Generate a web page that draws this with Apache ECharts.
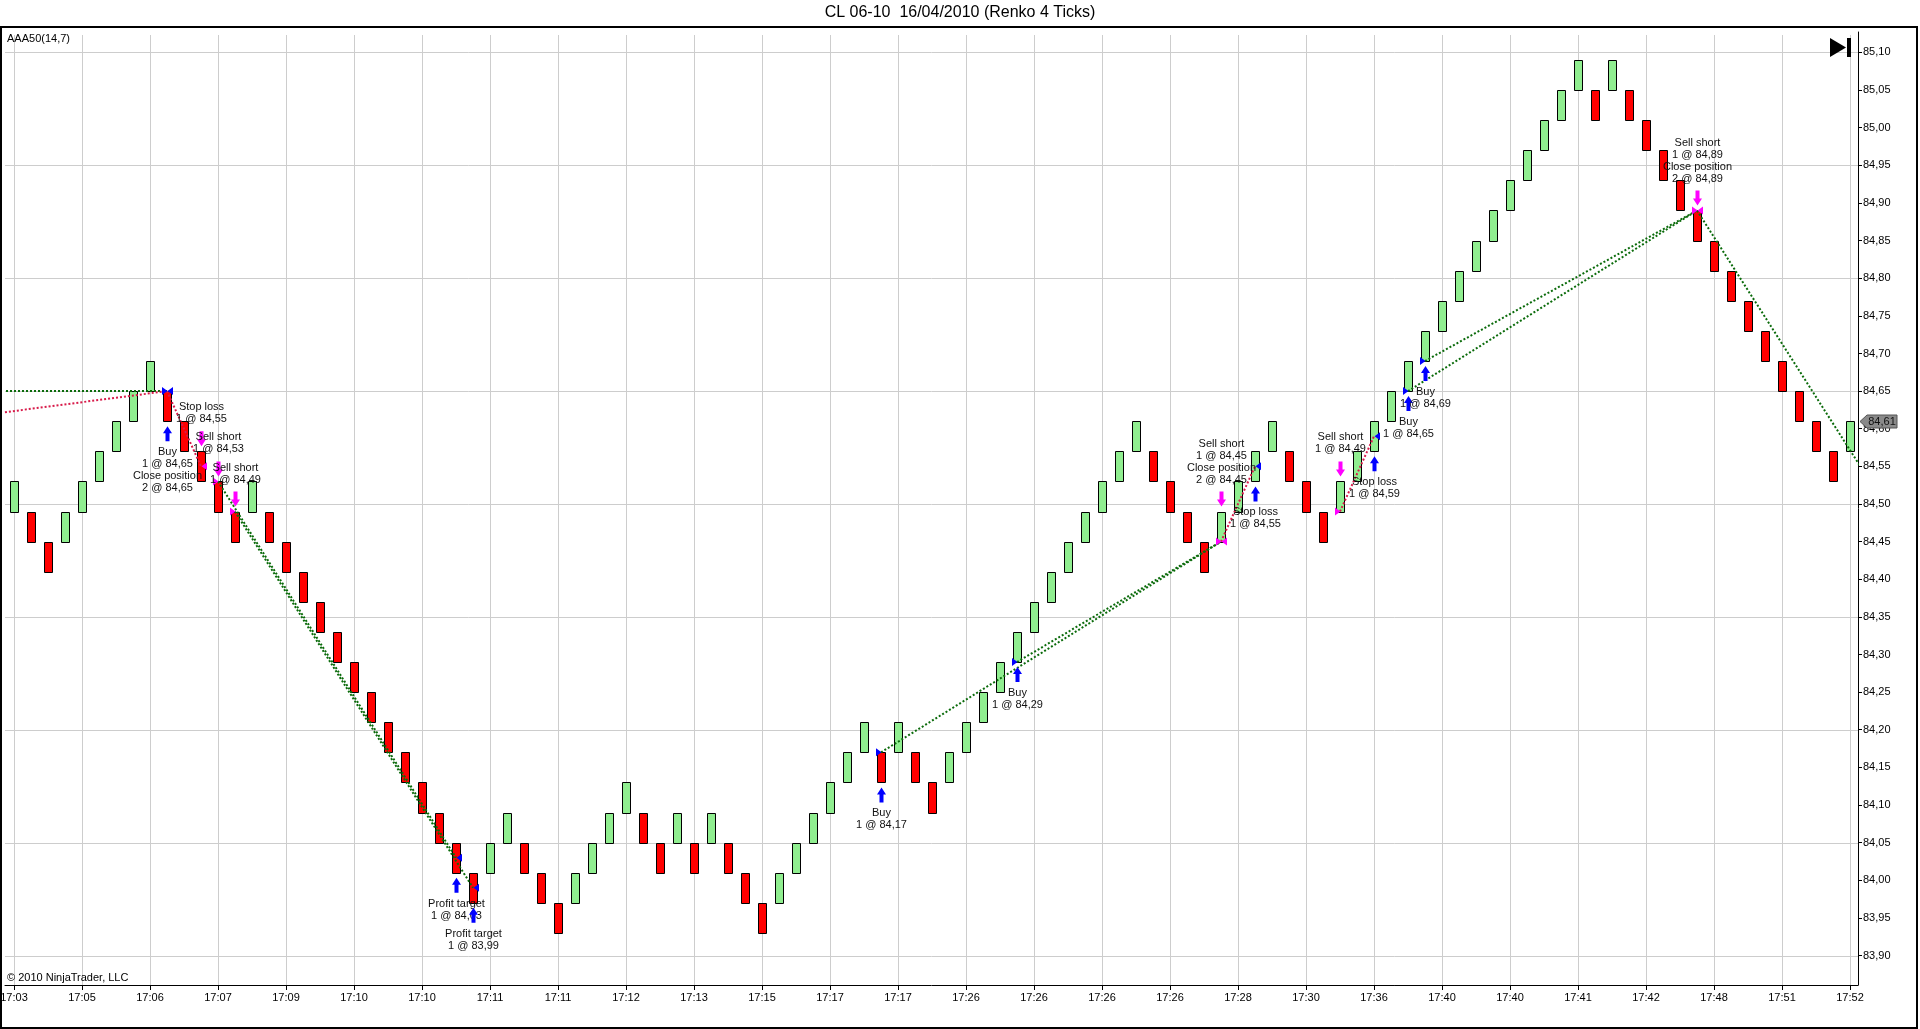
<!DOCTYPE html>
<html>
<head>
<meta charset="utf-8">
<script src="https://cdn.jsdelivr.net/npm/echarts@6/dist/echarts.min.js"></script>
<style>
html,body{margin:0;padding:0;background:#fff;}
#c{width:1920px;height:1029px;}
</style>
</head>
<body>
<div id="c"></div>
<script>
// ---------------- DATA ----------------
const chartTitle = 'CL 06-10  16/04/2010 (Renko 4 Ticks)';
const timeLabels = ['17:03','17:05','17:06','17:07','17:09','17:10','17:10','17:11','17:11','17:12','17:13','17:15','17:17','17:17','17:26','17:26','17:26','17:26','17:28','17:30','17:36','17:40','17:40','17:41','17:42','17:48','17:51','17:52'];
const timeLabelIdx = [0,4,8,12,16,20,24,28,32,36,40,44,48,52,56,60,64,68,72,76,80,84,88,92,96,100,104,108];

// brick direction: 1 = up (green), -1 = down (red)
const brickDir = [
  1,-1,-1,1,1,1,1,1,1,
  -1,-1,-1,-1,-1,
  1,
  -1,-1,-1,-1,-1,-1,-1,-1,-1,-1,-1,-1,-1,
  1,1,
  -1,-1,-1,
  1,1,1,1,
  -1,-1,
  1,
  -1,
  1,
  -1,-1,-1,
  1,1,1,1,1,1,
  -1,
  1,
  -1,-1,
  1,1,1,1,1,1,1,1,1,1,1,1,
  -1,-1,-1,-1,
  1,1,1,1,
  -1,-1,-1,
  1,1,1,1,1,1,1,1,1,1,1,1,1,1,1,
  -1,
  1,
  -1,-1,-1,-1,-1,-1,-1,-1,-1,-1,-1,-1,-1,
  1
];
// brick low price
const brickLow = [
  84.49,84.45,84.41,84.45,84.49,84.53,84.57,84.61,84.65,
  84.61,84.57,84.53,84.49,84.45,
  84.49,
  84.45,84.41,84.37,84.33,84.29,84.25,84.21,84.17,84.13,84.09,84.05,84.01,83.97,
  84.01,84.05,
  84.01,83.97,83.93,
  83.97,84.01,84.05,84.09,
  84.05,84.01,
  84.05,
  84.01,
  84.05,
  84.01,83.97,83.93,
  83.97,84.01,84.05,84.09,84.13,84.17,
  84.13,
  84.17,
  84.13,84.09,
  84.13,84.17,84.21,84.25,84.29,84.33,84.37,84.41,84.45,84.49,84.53,84.57,
  84.53,84.49,84.45,84.41,
  84.45,84.49,84.53,84.57,
  84.53,84.49,84.45,
  84.49,84.53,84.57,84.61,84.65,84.69,84.73,84.77,84.81,84.85,84.89,84.93,84.97,85.01,85.05,
  85.01,
  85.05,
  85.01,84.97,84.93,84.89,84.85,84.81,84.77,84.73,84.69,84.65,84.61,84.57,84.53,
  84.57
];
const brickSize = 0.04;

const yTickValues = [83.90,83.95,84.00,84.05,84.10,84.15,84.20,84.25,84.30,84.35,84.40,84.45,84.50,84.55,84.60,84.65,84.70,84.75,84.80,84.85,84.90,84.95,85.00,85.05,85.10];
const yGridValues = [83.90,84.05,84.20,84.35,84.50,84.65,84.80,84.95,85.10];

// executions
const execIdx   = [9, 11, 12, 13, 26, 27, 51, 59, 71, 73, 78, 80, 82, 83, 99];
const execPrice = [84.65, 84.55, 84.53, 84.49, 84.03, 83.99, 84.17, 84.29, 84.45, 84.55, 84.49, 84.59, 84.65, 84.69, 84.89];
const execSide  = ['buy','sell','sell','sell','buy','buy','buy','buy','sell','buy','sell','buy','buy','buy','sell'];
const execMark  = ['both','exit','entry','entry','exit','exit','entry','entry','both','exit','entry','exit','entry','entry','both'];
const execText  = [
  ['Buy','1 @ 84,65','Close position','2 @ 84,65'],
  ['Stop loss','1 @ 84,55'],
  ['Sell short','1 @ 84,53'],
  ['Sell short','1 @ 84,49'],
  ['Profit target','1 @ 84,03'],
  ['Profit target','1 @ 83,99'],
  ['Buy','1 @ 84,17'],
  ['Buy','1 @ 84,29'],
  ['Sell short','1 @ 84,45','Close position','2 @ 84,45'],
  ['Stop loss','1 @ 84,55'],
  ['Sell short','1 @ 84,49'],
  ['Stop loss','1 @ 84,59'],
  ['Buy','1 @ 84,65'],
  ['Buy','1 @ 84,69'],
  ['Sell short','1 @ 84,89','Close position','2 @ 84,89']
];

// trades (entry -> exit connections)
const tradeEntryIdx   = [-20, -8, 9, 12, 13, 51, 59, 71, 78, 82, 83, 99];
const tradeEntryPrice = [84.65, 84.60, 84.65, 84.53, 84.49, 84.17, 84.29, 84.45, 84.49, 84.65, 84.69, 84.89];
const tradeExitIdx    = [9, 9, 11, 26, 27, 71, 71, 73, 80, 99, 99, 112];
const tradeExitPrice  = [84.65, 84.65, 84.55, 84.03, 83.99, 84.45, 84.45, 84.55, 84.59, 84.89, 84.89, 84.43];
const tradeWin        = [1, 0, 0, 1, 1, 1, 1, 0, 0, 1, 1, 1];

const lastPrice = 84.61;

// ---------------- CHART ----------------
const FONT = 'Liberation Sans, Arial, sans-serif';
const XMIN = -0.53, XMAX = 108.47;
const YMIN = 83.8608, YMAX = 85.1272;

const bricks = brickLow.map((lo, i) => [i, lo, +(lo + brickSize).toFixed(2), brickDir[i]]);

function arrowUp(cx, t, color) {
  return {type:'polygon', shape:{points:[[cx,t],[cx+4.5,t+7],[cx+2,t+7],[cx+2,t+15],[cx-2,t+15],[cx-2,t+7],[cx-4.5,t+7]]}, style:{fill:color}};
}
function arrowDown(cx, b, color) {
  return {type:'polygon', shape:{points:[[cx,b],[cx+4.5,b-7],[cx+2,b-7],[cx+2,b-15],[cx-2,b-15],[cx-2,b-7],[cx-4.5,b-7]]}, style:{fill:color}};
}
function txt(x, y, s) {
  return {type:'text', x:x, y:y, style:{text:s, fill:'#111', font:'11px ' + FONT, align:'center', verticalAlign:'middle'}};
}

const series = [];

// vertical grid lines
series.push({
  type:'custom', z:0, silent:true, animation:false,
  data: timeLabelIdx.map(v => [v]),
  renderItem(params, api) {
    const a = api.coord([api.value(0), YMAX]);
    const b = api.coord([api.value(0), YMIN]);
    const x = Math.round(a[0]) + 0.5;
    return {type:'line', shape:{x1:x, y1:a[1] + 3, x2:x, y2:b[1]}, style:{stroke:'#cdcdcd', lineWidth:1}};
  }
});
// horizontal grid lines
series.push({
  type:'custom', z:0, silent:true, animation:false,
  data: yGridValues.map(v => [XMIN, v]),
  renderItem(params, api) {
    const a = api.coord([XMIN, api.value(1)]);
    const b = api.coord([XMAX, api.value(1)]);
    const y = Math.round(a[1]) + 0.5;
    return {type:'line', shape:{x1:a[0], y1:y, x2:b[0], y2:y}, style:{stroke:'#cdcdcd', lineWidth:1}};
  }
});
// bricks
series.push({
  type:'custom', z:2, silent:true, animation:false,
  data: bricks,
  renderItem(params, api) {
    const i = api.value(0), lo = api.value(1), hi = api.value(2), d = api.value(3);
    const a = api.coord([i, hi]), b = api.coord([i, lo]);
    const x = Math.round(a[0]) - 3.5;
    const y1 = Math.round(a[1]) + 0.5, y2 = Math.round(b[1]) + 0.5;
    return {type:'rect', shape:{x:x, y:y1, width:8, height:y2 - y1},
      style:{fill: d > 0 ? '#90EE90' : '#FF0000', stroke:'#000', lineWidth:1}};
  }
});
// trade lines
tradeEntryIdx.forEach((e, k) => {
  series.push({
    type:'line', z:3, silent:true, animation:false, showSymbol:false, symbol:'none', clip:true,
    data: [[e, tradeEntryPrice[k]], [tradeExitIdx[k], tradeExitPrice[k]]],
    lineStyle:{color: tradeWin[k] ? '#0b6b0b' : '#d81b4a', width:2, type:[2,2]}
  });
});
// executions
series.push({
  type:'custom', z:5, silent:true, animation:false,
  data: execIdx.map((v, k) => [v, execPrice[k]]),
  renderItem(params, api) {
    const k = params.dataIndex;
    const i = api.value(0), price = api.value(1);
    const side = execSide[k], mark = execMark[k];
    const lo = brickLow[i], hi = lo + brickSize;
    const p = api.coord([i, price]);
    const cx = Math.round(p[0]) + 0.5, py = p[1];
    const color = side === 'buy' ? '#0000FF' : '#FF00FF';
    const ch = [];
    if (mark === 'entry' || mark === 'both')
      ch.push({type:'polygon', shape:{points:[[cx-5.5,py-4],[cx,py],[cx-5.5,py+4]]}, style:{fill:color}});
    if (mark === 'exit' || mark === 'both')
      ch.push({type:'polygon', shape:{points:[[cx+5.5,py-4],[cx,py],[cx+5.5,py+4]]}, style:{fill:color}});
    const lines = execText[k];
    if (side === 'buy') {
      const t = api.coord([i, lo])[1] + 5;
      ch.push(arrowUp(cx, t, color));
      lines.forEach((s, j) => ch.push(txt(cx, t + 26 + 12 * j, s)));
    } else {
      const b = api.coord([i, hi])[1] - 5;
      ch.push(arrowDown(cx, b, color));
      const n = lines.length;
      lines.forEach((s, j) => ch.push(txt(cx, b - 27 - 12 * (n - 1 - j), s)));
    }
    return {type:'group', children:ch};
  }
});
// last price marker
series.push({
  type:'custom', z:10, silent:true, animation:false, clip:false,
  data: [[XMAX, lastPrice]],
  renderItem(params, api) {
    const p = api.coord([XMAX, api.value(1)]);
    const x = p[0] + 2, y = Math.round(p[1]) + 0.5;
    return {type:'group', children:[
      {type:'polygon', shape:{points:[[x,y],[x+7,y-6.5],[x+37,y-6.5],[x+37,y+6.5],[x+7,y+6.5]]},
        style:{fill:'#8a8a8a', stroke:'#555', lineWidth:1}},
      {type:'text', x:x+22, y:y, style:{text:api.value(1).toFixed(2).replace('.', ','), fill:'#111', font:'11px ' + FONT, align:'center', verticalAlign:'middle'}}
    ]};
  }
});

const chart = echarts.init(document.getElementById('c'), null, {renderer:'canvas'});
chart.setOption({
  animation:false,
  backgroundColor:'#fff',
  title:{text:chartTitle, left:'center', top:5, padding:0,
    textStyle:{fontSize:16, fontWeight:'normal', color:'#000', fontFamily:FONT}},
  grid:{left:5, right:62, top:32, bottom:44, containLabel:false, outerBoundsMode:'none'},
  xAxis:{
    type:'value', min:XMIN, max:XMAX,
    axisLine:{show:true, lineStyle:{color:'#000', width:1}},
    axisTick:{show:true, length:5, lineStyle:{color:'#000'}, customValues: timeLabelIdx},
    axisLabel:{show:true, margin:7, color:'#000', fontSize:11, fontFamily:FONT, customValues: timeLabelIdx,
      formatter: v => { const k = timeLabelIdx.indexOf(Math.round(v)); return k >= 0 ? timeLabels[k] : ''; }},
    splitLine:{show:false}
  },
  yAxis:{
    type:'value', position:'right', min:YMIN, max:YMAX, scale:true,
    axisLine:{show:true, onZero:false, lineStyle:{color:'#000', width:1}},
    axisTick:{show:true, length:4, lineStyle:{color:'#000'}, customValues: yTickValues},
    axisLabel:{show:true, margin:5, color:'#000', fontSize:11, fontFamily:FONT, customValues: yTickValues,
      formatter: v => v.toFixed(2).replace('.', ',')},
    splitLine:{show:false}
  },
  graphic:[
    {type:'rect', z:100, silent:true, shape:{x:1, y:27, width:1916, height:1001}, style:{fill:'none', stroke:'#000', lineWidth:2}},
    {type:'polygon', z:100, silent:true, shape:{points:[[1830,38],[1846,47.5],[1830,57]]}, style:{fill:'#000'}},
    {type:'rect', z:100, silent:true, shape:{x:1847, y:38, width:4, height:19}, style:{fill:'#000'}},
    {type:'text', z:100, silent:true, left:7, top:33, style:{text:'AAA50(14,7)', font:'11px ' + FONT, fill:'#000'}},
    {type:'text', z:100, silent:true, left:7, top:972, style:{text:'\u00A9 2010 NinjaTrader, LLC', font:'11px ' + FONT, fill:'#000'}}
  ],
  series: series
});
</script>
</body>
</html>
